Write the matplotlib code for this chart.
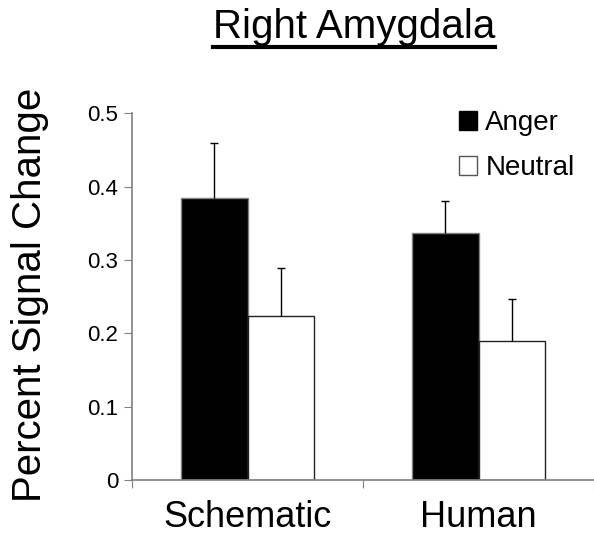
import matplotlib.pyplot as plt
import numpy as np
from matplotlib.patches import Patch

plt.rcParams['font.family'] = ['Liberation Sans', 'DejaVu Sans']

categories = ["Schematic", "Human"]
anger = [0.384, 0.337]
anger_err = [0.075, 0.043]
neutral = [0.223, 0.189]
neutral_err = [0.066, 0.058]
yticks = [0, 0.1, 0.2, 0.3, 0.4, 0.5]
ytick_labels = ["0", "0.1", "0.2", "0.3", "0.4", "0.5"]

fig = plt.figure(figsize=(5.94, 5.35), dpi=100)
ax = fig.add_axes([132 / 594, 1 - 480 / 535, (594 - 132) / 594, (480 - 113.3) / 535])

x = np.arange(len(categories)) + 0.5
w = 0.286
ekw = dict(ecolor='black', elinewidth=1, capsize=3, capthick=1)
b1 = ax.bar(x - w / 2, anger, w, color='black', edgecolor='#808080', linewidth=1,
            yerr=[np.zeros(2), anger_err], error_kw=ekw)
b2 = ax.bar(x + w / 2, neutral, w, color='white', edgecolor='#222222', linewidth=1,
            yerr=[np.zeros(2), neutral_err], error_kw=ekw)
# only the upper half of each error bar is shown
for b in (b1, b2):
    b.errorbar.lines[1][0].set_visible(False)

ax.set_xlim(0, (594 - 132) / 234)
ax.set_ylim(0, 0.5)
ax.set_yticks(yticks)
ax.set_yticklabels(ytick_labels, fontsize=16)
ax.set_xticks([0, 1, 2])
ax.set_xticklabels([])
ax.tick_params(axis='x', direction='out', length=6, color='#808080')
ax.tick_params(axis='y', direction='out', length=6, color='#808080', pad=4)
for i, c in enumerate(categories):
    ax.text(x[i], -(527 - 480) / 732, c, ha='center', va='baseline', fontsize=26, transform=ax.transData)

for s in ['top', 'right']:
    ax.spines[s].set_visible(False)
for s in ['left', 'bottom']:
    ax.spines[s].set_color('#808080')
    ax.spines[s].set_linewidth(1.2)

fig.text(30 / 594, 1 - 295 / 535, "Percent Signal Change", rotation=90, ha='center', va='center', fontsize=29)
t = fig.text(354 / 594, 1 - 27 / 535, "Right Amygdala", ha='center', va='center', fontsize=29)
# underline under the title
fig.canvas.draw()
bb = t.get_window_extent()
yl = 1 - 46.5 / 535
fig.add_artist(plt.Line2D([bb.x0 / 594, bb.x1 / 594], [yl, yl],
                          color='black', linewidth=3, transform=fig.transFigure))

handles = [Patch(facecolor='black', edgecolor='black'), Patch(facecolor='white', edgecolor='#555555')]
ax.legend(handles, ["Anger", "Neutral"], loc='upper left', bbox_to_anchor=(459 / 594, 1 - 110 / 535),
          bbox_transform=fig.transFigure, frameon=False, fontsize=20, handlelength=0.65, handleheight=0.65,
          handletextpad=0.3, labelspacing=0.7, borderaxespad=0, borderpad=0)

fig.savefig("out.png", dpi=100)
